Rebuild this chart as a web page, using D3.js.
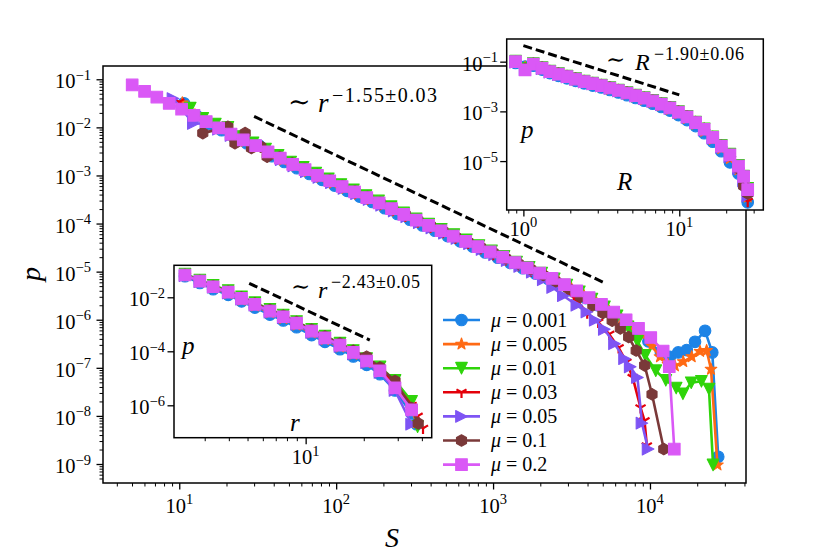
<!DOCTYPE html>
<html><head><meta charset="utf-8">
<script src="https://cdn.jsdelivr.net/npm/d3@7"></script>
<style>body{margin:0;background:#fff}svg{display:block}text{font-family:"Liberation Serif","DejaVu Serif",serif}</style>
</head><body>
<svg id="c" width="830" height="554"></svg>
<script>
// ---------------- DATA (log10 values) ----------------
const seriesNames = ["0.001","0.005","0.01","0.03","0.05","0.1","0.2"];

// main panel: p(S)
const main_logS_0001=[1.03,1.11,1.19,1.27,1.35,1.43,1.51,1.59,1.67,1.75,1.83,1.91,1.99,2.07,2.15,2.23,2.31,2.39,2.47,2.55,2.63,2.71,2.79,2.87,2.95,3.03,3.11,3.19,3.27,3.35,3.43,3.51,3.59,3.67,3.75,3.83,3.91,3.99,4.07,4.127,4.180,4.234,4.287,4.351,4.397,4.435];
const main_logP_0001=[-1.50,-1.76,-1.93,-2.06,-2.21,-2.33,-2.38,-2.60,-2.72,-2.85,-2.97,-3.09,-3.21,-3.32,-3.44,-3.55,-3.68,-3.80,-3.92,-4.04,-4.15,-4.26,-4.37,-4.48,-4.60,-4.71,-4.82,-4.93,-5.04,-5.15,-5.28,-5.41,-5.55,-5.70,-5.86,-6.03,-6.22,-6.45,-6.68,-6.77,-6.68,-6.63,-6.46,-6.23,-6.68,-8.85];
const main_logS_0005=[1.02,1.10,1.18,1.26,1.34,1.42,1.50,1.58,1.66,1.74,1.82,1.90,1.98,2.06,2.14,2.22,2.30,2.38,2.46,2.54,2.62,2.70,2.78,2.86,2.94,3.02,3.10,3.18,3.26,3.34,3.42,3.50,3.58,3.66,3.74,3.82,3.89,3.957,4.013,4.064,4.115,4.159,4.212,4.266,4.319,4.361,4.389,4.430];
const main_logP_0005=[-1.49,-1.74,-1.90,-2.03,-2.17,-2.29,-2.41,-2.55,-2.68,-2.80,-2.92,-3.04,-3.16,-3.27,-3.39,-3.50,-3.62,-3.74,-3.86,-3.98,-4.09,-4.20,-4.31,-4.42,-4.53,-4.64,-4.76,-4.87,-4.98,-5.10,-5.22,-5.35,-5.50,-5.65,-5.82,-5.99,-6.15,-6.32,-6.55,-6.77,-6.93,-6.96,-6.87,-6.77,-6.66,-6.64,-7.03,-9.02];
const main_logS_001=[1.07,1.15,1.23,1.31,1.39,1.47,1.55,1.63,1.71,1.79,1.87,1.95,2.03,2.11,2.19,2.27,2.35,2.43,2.51,2.59,2.67,2.75,2.83,2.91,2.99,3.07,3.15,3.23,3.31,3.39,3.47,3.55,3.63,3.71,3.79,3.86,3.92,3.97,4.037,4.101,4.167,4.210,4.263,4.328,4.376,4.402];
const main_logP_001=[-1.60,-1.81,-1.93,-2.00,-2.19,-2.32,-2.45,-2.58,-2.72,-2.83,-2.95,-3.07,-3.19,-3.30,-3.42,-3.53,-3.65,-3.78,-3.90,-4.01,-4.12,-4.23,-4.34,-4.46,-4.57,-4.68,-4.80,-4.91,-5.03,-5.15,-5.28,-5.42,-5.57,-5.73,-5.92,-6.15,-6.45,-6.74,-7.06,-7.26,-7.42,-7.54,-7.31,-7.28,-7.44,-9.02];
const main_logS_003=[1.00,1.08,1.16,1.24,1.32,1.40,1.48,1.56,1.64,1.72,1.80,1.88,1.96,2.04,2.12,2.20,2.28,2.36,2.44,2.52,2.60,2.68,2.76,2.84,2.92,3.00,3.08,3.16,3.24,3.32,3.40,3.47,3.54,3.60,3.67,3.74,3.80,3.85,3.89,3.94,3.965,3.98];
const main_logP_003=[-1.47,-1.72,-1.87,-2.00,-2.13,-2.26,-2.38,-2.51,-2.64,-2.77,-2.89,-3.01,-3.12,-3.24,-3.36,-3.48,-3.59,-3.71,-3.84,-3.96,-4.07,-4.18,-4.30,-4.41,-4.52,-4.64,-4.75,-4.87,-4.99,-5.11,-5.25,-5.40,-5.62,-5.86,-6.05,-6.30,-6.58,-6.88,-7.20,-7.83,-8.10,-8.62];
const main_logS_005=[0.96,1.09,1.17,1.25,1.33,1.41,1.49,1.57,1.65,1.73,1.81,1.89,1.97,2.05,2.13,2.21,2.29,2.37,2.45,2.53,2.61,2.69,2.77,2.85,2.93,3.01,3.09,3.17,3.25,3.32,3.38,3.448,3.534,3.598,3.651,3.709,3.774,3.838,3.874,3.92,3.949,3.988];
const main_logP_005=[-1.40,-1.92,-1.92,-2.04,-2.17,-2.29,-2.41,-2.54,-2.67,-2.80,-2.92,-3.04,-3.15,-3.27,-3.38,-3.50,-3.62,-3.74,-3.86,-3.98,-4.09,-4.20,-4.31,-4.42,-4.54,-4.65,-4.77,-4.89,-5.01,-5.17,-5.33,-5.50,-5.70,-5.84,-6.01,-6.20,-6.50,-6.81,-6.98,-7.20,-8.15,-8.69];
const main_logS_01=[1.15,1.31,1.355,1.42,1.46,1.52,1.56,1.64,1.72,1.80,1.88,1.96,2.04,2.12,2.20,2.28,2.36,2.44,2.52,2.60,2.68,2.76,2.84,2.92,3.00,3.08,3.16,3.24,3.32,3.40,3.479,3.557,3.636,3.70,3.759,3.811,3.864,3.912,3.966,4.013,4.088];
const main_logP_01=[-2.12,-1.99,-2.33,-2.12,-2.43,-2.40,-2.61,-2.62,-2.75,-2.87,-2.99,-3.10,-3.22,-3.33,-3.45,-3.57,-3.69,-3.81,-3.93,-4.04,-4.15,-4.27,-4.38,-4.49,-4.60,-4.72,-4.83,-4.95,-5.07,-5.20,-5.35,-5.52,-5.70,-5.86,-6.02,-6.18,-6.36,-6.64,-6.95,-7.55,-8.69];
const main_logS_02=[0.700,0.779,0.857,0.936,1.015,1.094,1.172,1.251,1.330,1.408,1.487,1.566,1.644,1.723,1.802,1.881,1.959,2.038,2.117,2.195,2.274,2.353,2.431,2.510,2.589,2.668,2.746,2.825,2.904,2.982,3.061,3.140,3.218,3.297,3.376,3.455,3.533,3.612,3.691,3.769,3.848,3.927,4.005,4.084,4.123,4.155];
const main_logP_02=[-1.118,-1.25,-1.37,-1.50,-1.62,-1.75,-1.88,-2.01,-2.14,-2.26,-2.38,-2.51,-2.64,-2.77,-2.88,-3.00,-3.11,-3.23,-3.34,-3.46,-3.57,-3.69,-3.81,-3.93,-4.04,-4.15,-4.26,-4.37,-4.48,-4.59,-4.70,-4.81,-4.92,-5.03,-5.14,-5.27,-5.40,-5.54,-5.68,-5.84,-6.00,-6.18,-6.37,-6.65,-6.975,-8.69];

// upper inset: p(R)
const up_logR=[-0.05,0.011,0.064,0.12,0.17,0.225,0.28,0.335,0.39,0.445,0.50,0.555,0.61,0.665,0.72,0.775,0.83,0.885,0.94,0.995,1.05,1.105,1.16,1.215,1.27,1.325,1.38,1.413,1.439];
const up_logP_0001=[-1.05,-1.20,-1.16,-1.32,-1.46,-1.57,-1.67,-1.77,-1.87,-1.96,-2.04,-2.14,-2.24,-2.35,-2.46,-2.57,-2.69,-2.82,-2.97,-3.15,-3.35,-3.59,-3.88,-4.22,-4.60,-5.05,-5.50,-5.95,-6.66];
const up_logP_0005=[-1.03,-1.22,-1.14,-1.30,-1.44,-1.54,-1.64,-1.74,-1.84,-1.93,-2.01,-2.11,-2.21,-2.31,-2.42,-2.53,-2.64,-2.77,-2.92,-3.10,-3.29,-3.52,-3.80,-4.13,-4.50,-4.90,-5.35,-5.80,-6.45];
const up_logP_001=[-0.98,-1.28,-1.08,-1.24,-1.38,-1.48,-1.58,-1.68,-1.78,-1.86,-1.94,-2.04,-2.14,-2.24,-2.35,-2.45,-2.56,-2.69,-2.84,-3.01,-3.20,-3.43,-3.70,-4.02,-4.37,-4.72,-5.17,-5.60,-6.10];
const up_logP_003=[-1.00,-1.30,-1.10,-1.26,-1.40,-1.50,-1.60,-1.70,-1.80,-1.88,-1.96,-2.06,-2.16,-2.26,-2.37,-2.47,-2.58,-2.71,-2.86,-3.03,-3.22,-3.45,-3.72,-4.05,-4.40,-4.78,-5.25,-5.75,-6.62];
const up_logP_005=[-1.02,-1.32,-1.12,-1.28,-1.42,-1.52,-1.62,-1.72,-1.82,-1.90,-1.98,-2.08,-2.18,-2.28,-2.39,-2.49,-2.60,-2.73,-2.88,-3.05,-3.24,-3.47,-3.75,-4.08,-4.44,-4.82,-5.30,-5.80,-6.40];
const up_logP_01=[-1.00,-1.30,-1.08,-1.24,-1.38,-1.48,-1.58,-1.68,-1.78,-1.86,-1.94,-2.04,-2.14,-2.24,-2.35,-2.45,-2.56,-2.69,-2.84,-3.01,-3.20,-3.43,-3.70,-4.03,-4.38,-4.75,-5.30,-6.00,-6.30];
const up_logP_02=[-1.00,-1.33,-1.10,-1.26,-1.40,-1.50,-1.60,-1.70,-1.80,-1.88,-1.96,-2.06,-2.16,-2.26,-2.37,-2.47,-2.58,-2.71,-2.86,-3.03,-3.22,-3.45,-3.72,-4.05,-4.40,-4.75,-5.20,-5.62,-6.15];

// lower inset: p(r)
const lo_logr=[0.375,0.452,0.521,0.599,0.668,0.737,0.815,0.884,0.953,1.031,1.100,1.178,1.247,1.316,1.385,1.463,1.549];
const lo_logP_0001=[-1.22,-1.47,-1.70,-1.91,-2.15,-2.38,-2.64,-2.86,-3.11,-3.40,-3.65,-3.92,-4.19,-4.50,-4.85,-5.45,-6.30];
const lo_logP_0005=[-1.19,-1.43,-1.65,-1.86,-2.10,-2.32,-2.57,-2.79,-3.03,-3.32,-3.57,-3.84,-4.11,-4.42,-4.76,-5.35,-6.15];
const lo_logP_001=[-1.14,-1.36,-1.56,-1.75,-1.98,-2.20,-2.45,-2.66,-2.90,-3.19,-3.44,-3.70,-3.97,-4.27,-4.58,-5.08,-5.85];
const lo_logP_003=[-1.17,-1.40,-1.61,-1.81,-2.04,-2.26,-2.51,-2.72,-2.96,-3.25,-3.50,-3.77,-4.04,-4.34,-4.66,-5.20,-6.00];
const lo_logP_005=[-1.20,-1.42,-1.63,-1.84,-2.07,-2.29,-2.55,-2.76,-3.00,-3.30,-3.55,-3.82,-4.10,-4.42,-4.78,-5.45,-6.70];
const lo_logP_01=[-1.17,-1.39,-1.59,-1.79,-2.01,-2.23,-2.47,-2.68,-2.92,-3.20,-3.45,-3.71,-3.98,-4.20,-4.60,-5.10,-6.10];
const lo_logP_02=[-1.174,-1.40,-1.61,-1.81,-2.04,-2.26,-2.51,-2.72,-2.96,-3.25,-3.50,-3.77,-4.04,-4.36,-4.72,-5.35,-6.17];
// tails beyond the shared bins
const lo_tail_logr_0001=[1.575], lo_tail_logP_0001=[-6.70];
const lo_tail_logr_0005=[1.575], lo_tail_logP_0005=[-6.65];
const lo_tail_logr_001=[1.58],  lo_tail_logP_001=[-6.79];
const lo_tail_logr_003=[1.58,1.608], lo_tail_logP_003=[-6.40,-6.85];
const lo_tail_logr_005=[], lo_tail_logP_005=[];
const lo_tail_logr_01=[1.583], lo_tail_logP_01=[-6.67];
const lo_tail_logr_02=[], lo_tail_logP_02=[];

// guide (fit) lines
const mainGuideS=[30,5000], mainGuideP=[0.0169,6.07e-6];
const upGuideR=[1,10], upGuideP=[0.44,0.0046];
const loGuideR=[5.1,21.5], loGuideP=[0.033,2.6e-4];

// tick values
const mainXMajor=[10,100,1000,10000];
const mainYMajorExp=[-1,-2,-3,-4,-5,-6,-7,-8,-9];
const upXMajor=[1,10], upXMinor=[0.8,0.9,2,3,4,5,6,7,8,9,20,30];
const upYMajorExp=[-1,-3,-5];
const loXMajor=[10], loXMinor=[3,4,5,6,7,8,9,20,30,40];
const loYMajorExp=[-2,-4,-6];

// ---------------- STYLE ----------------
const colors=["#1c83e6","#ff6a14","#2fd40a","#e4000a","#7e54f4","#7a3939","#da58f6"];
const markers=["o","*","v","1",">","h","s"];
const FONT="Liberation Serif";
const MS=5.8, LW=2.6;

const svg=d3.select("#c");
svg.append("rect").attr("width",830).attr("height",554).attr("fill","#fff");
const defs=svg.append("defs");

function markerPath(t,s){
  if(t==="o") return `M${s},0A${s},${s} 0 1,1 ${-s},0A${s},${s} 0 1,1 ${s},0Z`;
  if(t==="s") return `M${-s},${-s}H${s}V${s}H${-s}Z`;
  if(t==="v") return `M0,${s}L${-s},${-s}L${s},${-s}Z`;
  if(t===">") return `M${s},0L${-s},${s}L${-s},${-s}Z`;
  if(t==="*"){let p="";for(let i=0;i<10;i++){const r=i%2?s*0.42:s*1.05;const a=-Math.PI/2+i*Math.PI/5;p+=(i?"L":"M")+(r*Math.cos(a)).toFixed(2)+","+(r*Math.sin(a)).toFixed(2);}return p+"Z";}
  if(t==="h"){let p="";for(let i=0;i<6;i++){const a=-Math.PI/2+i*Math.PI/3;p+=(i?"L":"M")+(s*Math.cos(a)).toFixed(2)+","+(s*Math.sin(a)).toFixed(2);}return p+"Z";}
  if(t==="1") return `M0,0L0,${s}M0,0L${-s*0.87},${-s*0.5}M0,0L${s*0.87},${-s*0.5}`;
}
function drawMarker(g,x,y,i){
  const t=markers[i];
  const p=g.append("path").attr("d",markerPath(t,MS)).attr("transform",`translate(${x},${y})`);
  if(t==="1") p.attr("fill","none").attr("stroke",colors[i]).attr("stroke-width",2.2);
  else p.attr("fill",colors[i]).attr("stroke",colors[i]).attr("stroke-width",1.1).attr("stroke-linejoin","round");
}
function plotSeries(g,sx,sy,lx,ly,i){
  const n=Math.min(lx.length,ly.length), pts=[];
  for(let k=0;k<n;k++) pts.push([sx(Math.pow(10,lx[k])),sy(Math.pow(10,ly[k]))]);
  g.append("path").attr("d",d3.line()(pts)).attr("fill","none").attr("stroke",colors[i])
    .attr("stroke-width",LW).attr("stroke-linejoin","round").attr("stroke-linecap","round");
  pts.forEach(p=>drawMarker(g,p[0],p[1],i));
}
function powLabel(g,x,y,exp,anchor,size,supSize){
  const t=g.append("text").attr("x",x).attr("y",y).attr("text-anchor",anchor)
    .attr("font-family",FONT).attr("font-size",size).attr("fill","#000");
  t.append("tspan").text("10");
  t.append("tspan").attr("dy",-8.5).attr("font-size",supSize).text(String(exp).replace("-","\u2212"));
}
function minorsFor(domain){
  const out=[];const lo=Math.floor(Math.log10(domain[0])),hi=Math.ceil(Math.log10(domain[1]));
  for(let d=lo;d<=hi;d++) for(let m=2;m<=9;m++){const v=m*Math.pow(10,d);if(v>=domain[0]&&v<=domain[1])out.push(v);}
  return out;
}
function axisBox(id,x0,y0,x1,y1){
  defs.append("clipPath").attr("id",id).append("rect").attr("x",x0).attr("y",y0).attr("width",x1-x0).attr("height",y1-y0);
}
function ticks(g,sx,sy,xMaj,xMin,yMaj,yMin,x0,y1){
  const ax=g.append("g").attr("transform",`translate(0,${y1})`);
  ax.call(d3.axisBottom(sx).tickValues(xMaj).tickSize(6.5).tickFormat(""));
  const ax2=g.append("g").attr("transform",`translate(0,${y1})`);
  ax2.call(d3.axisBottom(sx).tickValues(xMin).tickSize(3.5).tickFormat(""));
  const ay=g.append("g").attr("transform",`translate(${x0},0)`);
  ay.call(d3.axisLeft(sy).tickValues(yMaj).tickSize(6.5).tickFormat(""));
  const ay2=g.append("g").attr("transform",`translate(${x0},0)`);
  ay2.call(d3.axisLeft(sy).tickValues(yMin).tickSize(3.5).tickFormat(""));
  [ax,ax2,ay,ay2].forEach(a=>{a.select(".domain").remove();a.selectAll("line").attr("stroke","#000");});
  [ax,ay].forEach(a=>a.selectAll("line").attr("stroke-width",1.3));
  [ax2,ay2].forEach(a=>a.selectAll("line").attr("stroke-width",1.0));
}
function frame(g,x0,y0,x1,y1){
  g.append("rect").attr("x",x0).attr("y",y0).attr("width",x1-x0).attr("height",y1-y0)
   .attr("fill","none").attr("stroke","#000").attr("stroke-width",1.5);
}
function guide(g,sx,sy,X,Y){
  g.append("path").attr("d",d3.line()(X.map((v,k)=>[sx(v),sy(Y[k])])))
   .attr("fill","none").attr("stroke","#000").attr("stroke-width",3).attr("stroke-dasharray","9,4");
}
function txt(g,x,y,s,size,italic,extra){
  const t=g.append("text").attr("x",x).attr("y",y).attr("font-family",FONT).attr("font-size",size)
    .attr("font-style",italic?"italic":"normal").attr("fill","#000").text(s);
  if(extra) extra(t);
  return t;
}

// ---------------- MAIN PANEL ----------------
const M={x0:103,x1:746,y0:66,y1:483};
const xMain=d3.scaleLog().domain([Math.pow(10,0.514),Math.pow(10,4.612)]).range([M.x0,M.x1]);
const yMain=d3.scaleLog().domain([Math.pow(10,-9.395),Math.pow(10,-0.724)]).range([M.y1,M.y0]);
axisBox("cm",M.x0,M.y0,M.x1,M.y1);
const gm=svg.append("g");
ticks(gm,xMain,yMain,mainXMajor,minorsFor(xMain.domain()),mainYMajorExp.map(e=>Math.pow(10,e)),minorsFor(yMain.domain()),M.x0,M.y1);
mainXMajor.forEach(v=>powLabel(gm,xMain(v),512.5,Math.round(Math.log10(v)),"middle",20.5,14.5));
mainYMajorExp.forEach(e=>powLabel(gm,91,yMain(Math.pow(10,e))+9,e,"end",20.5,14.5));
const gmd=gm.append("g").attr("clip-path","url(#cm)");
guide(gmd,xMain,yMain,mainGuideS,mainGuideP);
const mainLX=[main_logS_0001,main_logS_0005,main_logS_001,main_logS_003,main_logS_005,main_logS_01,main_logS_02];
const mainLY=[main_logP_0001,main_logP_0005,main_logP_001,main_logP_003,main_logP_005,main_logP_01,main_logP_02];
mainLX.forEach((lx,i)=>plotSeries(gmd,xMain,yMain,lx,mainLY[i],i));
frame(gm,M.x0,M.y0,M.x1,M.y1);
// axis labels
txt(gm,392,547,"S",28,true,t=>t.attr("text-anchor","middle"));
txt(gm,0,0,"p",28,true,t=>t.attr("text-anchor","middle").attr("transform","translate(40,274) rotate(-90)"));
// fit annotation
txt(gm,288,111,"\u223C",27,false);
txt(gm,318,112,"r",27,true);
txt(gm,332,101.5,"\u22121.55\u00B10.03",20,false,t=>t.attr("textLength",105).attr("lengthAdjust","spacing"));
// legend
const legY0=320, legDY=24.1;
seriesNames.forEach((nm,i)=>{
  const y=legY0+i*legDY;
  gm.append("line").attr("x1",443).attr("x2",480).attr("y1",y).attr("y2",y).attr("stroke",colors[i]).attr("stroke-width",LW);
  drawMarker(gm,461.5,y,i);
  const t=gm.append("text").attr("x",491).attr("y",y+6.5).attr("font-family",FONT).attr("font-size",20).attr("fill","#000");
  t.append("tspan").attr("font-style","italic").text("\u03BC");
  t.append("tspan").attr("dx",5).text("=");
  t.append("tspan").attr("dx",5).text(nm);
});

// ---------------- UPPER INSET (R) ----------------
const U={x0:506.7,x1:763.3,y0:39,y1:210};
const xUp=d3.scaleLog().domain([Math.pow(10,-0.107),Math.pow(10,1.539)]).range([U.x0,U.x1]);
const yUp=d3.scaleLog().domain([Math.pow(10,-6.968),Math.pow(10,-0.088)]).range([U.y1,U.y0]);
axisBox("cu",U.x0,U.y0,U.x1,U.y1);
const gu=svg.append("g");
gu.append("rect").attr("x",U.x0).attr("y",U.y0).attr("width",U.x1-U.x0).attr("height",U.y1-U.y0).attr("fill","#fff");
ticks(gu,xUp,yUp,upXMajor,upXMinor,upYMajorExp.map(e=>Math.pow(10,e)),[],U.x0,U.y1);
upXMajor.forEach(v=>powLabel(gu,xUp(v),235.5,Math.round(Math.log10(v)),"middle",20.5,14.5));
upYMajorExp.forEach(e=>powLabel(gu,498,yUp(Math.pow(10,e))+9,e,"end",20.5,14.5));
const gud=gu.append("g").attr("clip-path","url(#cu)");
guide(gud,xUp,yUp,upGuideR,upGuideP);
[up_logP_0001,up_logP_0005,up_logP_001,up_logP_003,up_logP_005,up_logP_01,up_logP_02]
  .forEach((ly,i)=>plotSeries(gud,xUp,yUp,up_logR,ly,i));
frame(gu,U.x0,U.y0,U.x1,U.y1);
txt(gu,606,67,"\u223C",23,false);
txt(gu,635,70,"R",24,true);
txt(gu,654,59.5,"\u22121.90\u00B10.06",18,false,t=>t.attr("textLength",90).attr("lengthAdjust","spacing"));
txt(gu,521,138,"p",25,true);
txt(gu,617,190,"R",25,true);

// ---------------- LOWER INSET (r) ----------------
const L={x0:174,x1:431.7,y0:265.3,y1:437.7};
const xLo=d3.scaleLog().domain([Math.pow(10,0.318),Math.pow(10,1.653)]).range([L.x0,L.x1]);
const yLo=d3.scaleLog().domain([Math.pow(10,-7.2),Math.pow(10,-0.815)]).range([L.y1,L.y0]);
axisBox("cl",L.x0,L.y0,L.x1,L.y1);
const gl=svg.append("g");
gl.append("rect").attr("x",L.x0).attr("y",L.y0).attr("width",L.x1-L.x0).attr("height",L.y1-L.y0).attr("fill","#fff");
ticks(gl,xLo,yLo,loXMajor,loXMinor,loYMajorExp.map(e=>Math.pow(10,e)),[],L.x0,L.y1);
loXMajor.forEach(v=>powLabel(gl,xLo(v),464,Math.round(Math.log10(v)),"middle",20.5,14.5));
loYMajorExp.forEach(e=>powLabel(gl,165,yLo(Math.pow(10,e))+9,e,"end",20.5,14.5));
const gld=gl.append("g").attr("clip-path","url(#cl)");
guide(gld,xLo,yLo,loGuideR,loGuideP);
const loLY=[lo_logP_0001,lo_logP_0005,lo_logP_001,lo_logP_003,lo_logP_005,lo_logP_01,lo_logP_02];
const loTR=[lo_tail_logr_0001,lo_tail_logr_0005,lo_tail_logr_001,lo_tail_logr_003,lo_tail_logr_005,lo_tail_logr_01,lo_tail_logr_02];
const loTP=[lo_tail_logP_0001,lo_tail_logP_0005,lo_tail_logP_001,lo_tail_logP_003,lo_tail_logP_005,lo_tail_logP_01,lo_tail_logP_02];
loLY.forEach((ly,i)=>plotSeries(gld,xLo,yLo,lo_logr.concat(loTR[i]),ly.concat(loTP[i]),i));
frame(gl,L.x0,L.y0,L.x1,L.y1);
txt(gl,291,294,"\u223C",23,false);
txt(gl,318,298,"r",24,true);
txt(gl,331,288,"\u22122.43\u00B10.05",18,false,t=>t.attr("textLength",89).attr("lengthAdjust","spacing"));
txt(gl,182,354,"p",25,true);
txt(gl,290,431,"r",25,true);
</script>
</body></html>
